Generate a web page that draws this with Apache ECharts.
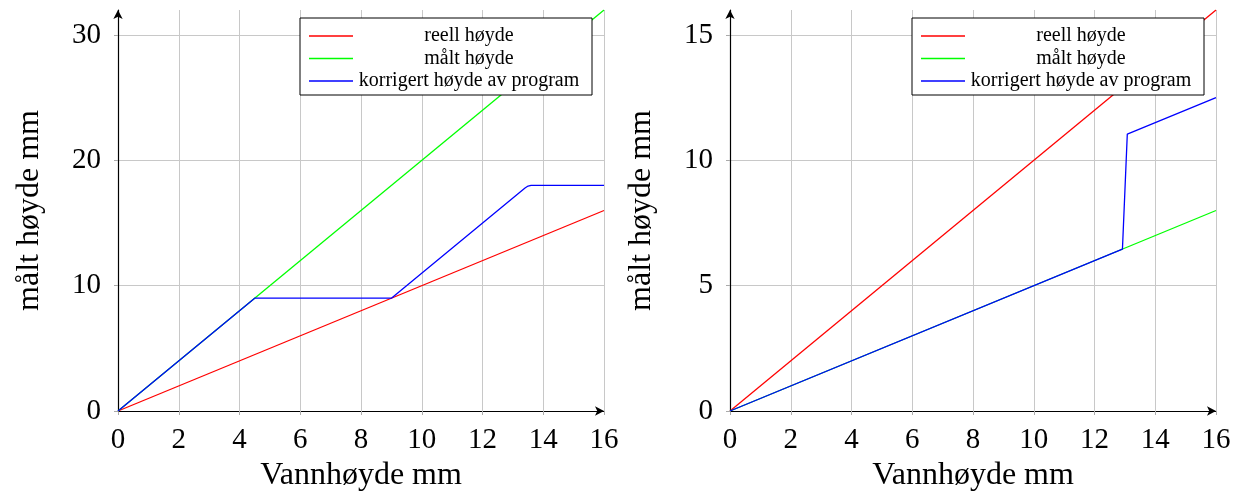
<!DOCTYPE html>
<html><head><meta charset="utf-8">
<script src="https://cdn.jsdelivr.net/npm/echarts@6/dist/echarts.min.js"></script>
<style>html,body{margin:0;padding:0;background:#fff}#c{width:1241px;height:492px}</style>
</head><body><div id="c"></div>
<script>
const seriesNames = ['reell høyde', 'målt høyde', 'korrigert høyde av program'];
const xTicks = [0, 2, 4, 6, 8, 10, 12, 14, 16];
// left chart
const leftReellX = [0, 16];
const leftReellY = [0, 16];
const leftMaltX = [0, 16];
const leftMaltY = [0, 32];
const leftKorrX = [0, 4.5, 9, 13.4, 13.5, 13.6, 16];
const leftKorrY = [0, 9, 9, 17.8, 17.95, 18, 18];
// right chart
const rightReellX = [0, 16];
const rightReellY = [0, 16];
const rightMaltX = [0, 16];
const rightMaltY = [0, 8];
const rightKorrX = [0, 12.92, 13.08, 16];
const rightKorrY = [0, 6.46, 11.05, 12.5];

const FONT = '"Liberation Serif", "DejaVu Serif", serif';
const colors = ['#ff0000', '#00ff00', '#0000ff'];
const zip = (xs, ys) => xs.map((x, i) => [x, ys[i]]);

function xAxis(gi) {
  return {
    type: 'value', gridIndex: gi, min: 0, max: 16, interval: 2,
    name: 'Vannhøyde mm', nameLocation: 'middle', nameGap: 46,
    nameTextStyle: { fontFamily: FONT, fontSize: 32, color: '#000' },
    axisLine: { show: true, lineStyle: { color: '#000', width: 1.2 }, symbol: ['none', 'arrow'], symbolSize: [7, 9] },
    axisTick: { show: true, length: 4, lineStyle: { color: '#aaa' } },
    axisLabel: { fontFamily: FONT, fontSize: 29, color: '#000', margin: 15 },
    splitLine: { show: true, lineStyle: { color: '#c8c8c8', width: 1 } }
  };
}
function yAxis(gi, max, interval) {
  return {
    type: 'value', gridIndex: gi, min: 0, max: max, interval: interval,
    name: 'målt høyde mm', nameLocation: 'middle', nameGap: 72,
    nameTextStyle: { fontFamily: FONT, fontSize: 32, color: '#000' },
    axisLine: { show: true, lineStyle: { color: '#000', width: 1.2 }, symbol: ['none', 'arrow'], symbolSize: [7, 9] },
    axisTick: { show: true, length: 4, lineStyle: { color: '#aaa' } },
    axisLabel: { fontFamily: FONT, fontSize: 29, color: '#000', margin: 17, showMaxLabel: false },
    splitLine: { show: true, showMaxLine: false, lineStyle: { color: '#c8c8c8', width: 1 } }
  };
}
function legend(left) {
  return {
    left: left, top: 18, orient: 'vertical', selectedMode: false,
    data: seriesNames,
    icon: 'rect',
    backgroundColor: '#fff', borderColor: '#000', borderWidth: 1, borderRadius: 0,
    padding: [8, 12, 4, 9], itemGap: 2.5, itemWidth: 44, itemHeight: 1.6,
    formatter: '{c|{name}}',
    textStyle: {
      fontFamily: FONT, fontSize: 20, color: '#000', lineHeight: 20,
      rich: { c: { width: 222, align: 'center', fontFamily: FONT, fontSize: 20, lineHeight: 20 } }
    }
  };
}
function line(name, data, gi, ci) {
  return {
    type: 'line', name: name, xAxisIndex: gi, yAxisIndex: gi, data: data,
    symbol: 'none', showSymbol: false, animation: false,
    lineStyle: { color: colors[ci], width: 1.3 }, itemStyle: { color: colors[ci] }
  };
}

const chart = echarts.init(document.getElementById('c'), null, { renderer: 'canvas' });
chart.setOption({
  animation: false,
  grid: [
    { left: 118, top: 10, width: 486, height: 401, containLabel: false, outerBoundsMode: 'none' },
    { left: 730, top: 10, width: 486, height: 401, containLabel: false, outerBoundsMode: 'none' }
  ],
  xAxis: [xAxis(0), xAxis(1)],
  yAxis: [yAxis(0, 32, 10), yAxis(1, 16, 5)],
  legend: [legend(300), legend(912)],
  series: [
    line(seriesNames[0], zip(leftReellX, leftReellY), 0, 0),
    line(seriesNames[1], zip(leftMaltX, leftMaltY), 0, 1),
    line(seriesNames[2], zip(leftKorrX, leftKorrY), 0, 2),
    line(seriesNames[0], zip(rightReellX, rightReellY), 1, 0),
    line(seriesNames[1], zip(rightMaltX, rightMaltY), 1, 1),
    line(seriesNames[2], zip(rightKorrX, rightKorrY), 1, 2)
  ]
});
</script></body></html>
